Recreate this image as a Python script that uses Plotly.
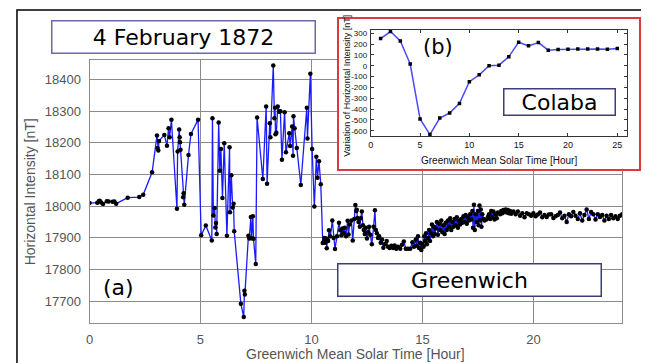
import plotly.graph_objects as go

# ---------------- data: Greenwich (panel a) ----------------
green_t = [
    0.00, 0.35, 0.42, 0.46, 0.52, 0.61, 0.78, 0.86, 1.04, 1.12, 1.20, 1.72, 2.24, 2.42, 2.82,
    3.04, 3.07, 3.10, 3.13, 3.37, 3.49, 3.56, 3.61, 3.69, 3.94, 3.97, 4.04, 4.06, 4.08, 4.10,
    4.22, 4.24, 4.27, 4.46, 4.57, 4.89, 5.03, 5.24, 5.51, 5.54, 5.58, 5.64, 5.67, 5.70, 5.73,
    5.82, 5.87, 5.92, 5.99, 6.07, 6.19, 6.31, 6.33, 6.39, 6.45, 6.49, 6.52, 6.82, 6.95, 6.98,
    7.00, 7.16, 7.20, 7.27, 7.30, 7.36, 7.39, 7.49, 7.55, 7.81, 7.96, 8.00, 8.12, 8.15, 8.28,
    8.33, 8.36, 8.38, 8.42, 8.48, 8.55, 8.60, 8.67, 8.79, 8.85, 9.00, 9.04, 9.13, 9.17, 9.19,
    9.24, 9.34, 9.52, 9.79, 9.82, 9.95, 10.03, 10.13, 10.22, 10.27, 10.34, 10.42,
    10.51, 10.55, 10.58, 10.62, 10.66, 10.69, 10.72, 10.75, 10.79, 10.85, 10.94, 11.00, 11.06,
    11.15, 11.24, 11.30, 11.35, 11.40, 11.45, 11.50, 11.56, 11.63, 11.67, 11.72, 11.80, 11.86,
    11.93, 11.98, 12.02, 12.04, 12.07, 12.12, 12.18, 12.22, 12.27, 12.32, 12.36, 12.40, 12.45,
    12.50, 12.55, 12.60, 12.65, 12.72, 12.80, 12.86, 12.90, 12.95, 13.00, 13.05, 13.12, 13.18,
    13.24, 13.30, 13.39, 13.45, 13.52, 13.60, 13.68, 13.75, 13.82, 13.90, 14.00, 14.08, 14.16,
    14.25, 14.35, 14.45, 14.55, 14.62, 14.70, 14.75, 14.80, 14.85, 14.90, 14.95, 15.00, 15.05,
    15.08, 15.12, 15.16, 15.20, 15.25, 15.30, 15.34, 15.38, 15.43, 15.48, 15.52, 15.56, 15.60,
    15.65, 15.70, 15.75, 15.80, 15.85, 15.90, 15.95, 16.00, 16.05, 16.10, 16.15, 16.20, 16.25,
    16.30, 16.35, 16.40, 16.45, 16.50, 16.55, 16.60, 16.65, 16.70, 16.75, 16.80, 16.85, 16.90,
    16.95, 17.00, 17.05, 17.10, 17.15, 17.20, 17.25, 17.28, 17.32, 17.36, 17.40, 17.45, 17.50,
    17.53, 17.57, 17.60, 17.63, 17.66, 17.70, 17.75, 17.80, 17.88, 17.95, 18.00, 18.05, 18.10,
    18.15, 18.20, 18.25, 18.30, 18.35, 18.40, 18.50, 18.55, 18.60, 18.65, 18.70, 18.75, 18.80,
    18.85, 18.90, 18.95, 19.00, 19.10, 19.20, 19.30, 19.40, 19.50, 19.60, 19.70, 19.80, 19.90,
    20.00, 20.10, 20.20, 20.30, 20.40, 20.50, 20.60, 20.70, 20.80, 20.90, 21.00, 21.10, 21.20,
    21.30, 21.40, 21.50, 21.60, 21.70, 21.80, 21.90, 22.00, 22.10, 22.20, 22.30, 22.40, 22.50,
    22.60, 22.70, 22.80, 22.90, 23.00, 23.10, 23.20, 23.30, 23.40, 23.50, 23.60, 23.70, 23.80,
    23.90, 24.00,
]
green_h = [
    18010, 18011, 18016, 18017, 18012, 18007, 18016, 18015, 18014, 18015, 18008, 18027, 18029, 18036, 18107,
    18223, 18184, 18176, 18206, 18225, 18191, 18246, 18218, 18273, 17992, 18173, 18242, 18218, 18202, 18178,
    18028, 18041, 18005, 18162, 18228, 18273, 17908, 17939, 17892, 18278, 17971, 17994, 17933, 17947, 17912,
    18264, 18112, 18181, 18026, 18199, 17907, 18186, 17981, 18098, 17996, 18008, 17921, 17692, 17650, 17733,
    17721, 17907, 17898, 17966, 17899, 17968, 17897, 17818, 18280, 18086, 18315, 18071, 18262, 18218, 18444,
    18278, 18311, 18227, 18232, 18315, 18298, 18300, 18147, 18297, 18170, 18230, 18190, 18252, 18159, 18284,
    18246, 18184, 18067, 18311, 18214, 18418, 18181, 17999, 18156, 18090, 18142, 18069,
    17884, 17888, 17900, 17885, 17898, 17867, 17896, 17890, 17924, 17905, 17955, 17900, 17865,
    17905, 17948, 17924, 17908, 17930, 17915, 17932, 17905, 17954, 17911, 17942, 17955, 17892,
    17960, 18004, 17985, 17989, 17963, 17950, 17935, 17962, 17983, 17940, 17925, 17912, 17932,
    17898, 17918, 17935, 17910, 17880, 17935, 17987, 17925, 17915, 17900, 17905, 17885, 17895,
    17869, 17880, 17890, 17872, 17868, 17875, 17868, 17876, 17866, 17872, 17866, 17878, 17889,
    17866, 17866, 17866, 17886, 17872, 17895, 17875, 17905, 17868, 17885, 17862, 17880, 17872,
    17905, 17890, 17915, 17880, 17900, 17925, 17890, 17915, 17942, 17905, 17935, 17912, 17930,
    17950, 17910, 17945, 17925, 17955, 17918, 17940, 17912, 17948, 17925, 17955, 17935, 17962,
    17925, 17950, 17935, 17960, 17940, 17965, 17932, 17955, 17942, 17960, 17948, 17968, 17950,
    17972, 17945, 17965, 17955, 17975, 17958, 17985, 17932, 18005, 17925, 17975, 17950, 17985,
    17940, 18002, 17955, 17990, 17935, 17975, 17960, 17955, 17958, 17966, 17975, 17960, 17985,
    17965, 17983, 17958, 17975, 17962, 17980, 17975, 17985, 17978, 17988, 17982, 17990, 17980,
    17988, 17978, 17985, 17976, 17983, 17975, 17983, 17970, 17978, 17965, 17978, 17975, 17970,
    17978, 17968, 17974, 17980, 17965, 17972, 17966, 17974, 17975, 17963, 17968, 17972, 17980,
    17962, 17970, 17950, 17975, 17968, 17982, 17970, 17960, 17978, 17955, 17972, 17990, 17960,
    17982, 17975, 17958, 17975, 17966, 17972, 17955, 17970, 17960, 17972, 17962, 17968, 17960,
    17970, 17975,
]

# ---------------- data: Colaba (panel b) ----------------
colaba_t = list(range(1, 26))
colaba_v = [250, 315, 229, 15, -492, -636, -483, -437, -348, -148, -84, 0, 5, 82,
            217, 183, 213, 143, 149, 152, 155, 155, 155, 152, 158]

main_xticks = [0, 5, 10, 15, 20]
main_yticks = [17700, 17800, 17900, 18000, 18100, 18200, 18300, 18400]
main_ytext = ["17700", "17800", "17900", "18000", "18100", "18200", "18300", "18400"]
inset_xticks = [0, 5, 10, 15, 20, 25]
inset_yticks = [300, 200, 100, 0, -100, -200, -300, -400, -500, -600]
inset_ytext = ["300", "200", "100", "0", "-100", "-200", "-300", "-400", "-500", "-600"]

# page has an 8px body margin: the figure is placed at (8, 8)
OFF = 8
W, H = 649 - OFF, 363 - OFF
def px(x): return (x - OFF) / W
def py(y): return 1 - (y - OFF) / H

TICK = dict(family="Liberation Sans, Arial, sans-serif", size=13, color="#555555")
NARROW = "Liberation Sans Narrow, Arial Narrow, Liberation Sans, sans-serif"

fig = go.Figure()

fig.add_trace(go.Scatter(
    x=green_t, y=green_h, mode="lines+markers",
    line=dict(color="#1a1aff", width=1.3),
    marker=dict(color="black", size=4.5),
    xaxis="x", yaxis="y", showlegend=False, hoverinfo="skip"))

# frame "subplot" of the inset (white panel with red border)
fig.add_trace(go.Scatter(x=[None], y=[None], xaxis="x2", yaxis="y2",
                         showlegend=False, hoverinfo="skip"))

fig.add_trace(go.Scatter(
    x=colaba_t, y=colaba_v, mode="lines+markers",
    line=dict(color="#4a4aff", width=1.5),
    marker=dict(color="black", size=3.5, symbol="square"),
    xaxis="x3", yaxis="y3", showlegend=False, hoverinfo="skip"))

fig.update_layout(
    width=W, height=H,
    margin=dict(l=0, r=0, t=0, b=0),
    paper_bgcolor="white", plot_bgcolor="white",
    xaxis=dict(domain=[px(86), px(622)], range=[0, 24], tickvals=main_xticks,
               showgrid=True, gridcolor="#8c8c8c", gridwidth=1, zeroline=False,
               showline=True, mirror=True, linecolor="#8c8c8c", linewidth=1,
               ticks="", tickfont=TICK, anchor="y", ticklabelstandoff=4),
    yaxis=dict(domain=[py(323), py(59)], range=[17631, 18462], tickvals=main_yticks,
               ticktext=main_ytext,
               showgrid=True, gridcolor="#8c8c8c", gridwidth=1, zeroline=False,
               showline=True, mirror=True, linecolor="#8c8c8c", linewidth=1,
               ticks="", tickfont=TICK, anchor="x", ticklabelstandoff=5),
    xaxis2=dict(domain=[px(337), px(639)], range=[0, 1], showgrid=False, zeroline=False,
                showticklabels=False, showline=True, mirror=True, linecolor="#d93a3a",
                linewidth=2, ticks="", anchor="y2"),
    yaxis2=dict(domain=[py(168), py(18)], range=[0, 1], showgrid=False, zeroline=False,
                showticklabels=False, showline=True, mirror=True, linecolor="#d93a3a",
                linewidth=2, ticks="", anchor="x2"),
    xaxis3=dict(domain=[px(369), px(627)], range=[0, 26], tickvals=inset_xticks,
                showgrid=False, zeroline=False, showline=True, mirror="ticks",
                linecolor="#333333", linewidth=1, ticks="inside", ticklen=3,
                tickcolor="#333333",
                tickfont=dict(family=NARROW, size=9, color="#111111"), anchor="y3"),
    yaxis3=dict(domain=[py(135.7), py(29)], range=[-652, 330], tickvals=inset_yticks,
                ticktext=inset_ytext,
                showgrid=False, zeroline=False, showline=True, mirror="ticks",
                linecolor="#333333", linewidth=1, ticks="inside", ticklen=3,
                tickcolor="#333333", ticklabelstandoff=1,
                tickfont=dict(family=NARROW, size=8, color="#111111"), anchor="x3"),
)

DV = "DejaVu Sans, Verdana, sans-serif"
ann = []
ann.append(dict(x=px(180.5), y=py(36), xref="paper", yref="paper", text="4 February 1872",
                showarrow=False, font=dict(family=DV, size=22, color="black"),
                bgcolor="white", bordercolor="#6a6aa8", borderwidth=1.5, borderpad=0,
                width=262, height=31, xanchor="center", yanchor="middle"))
ann.append(dict(x=px(115), y=py(287), xref="paper", yref="paper", text="(a)",
                showarrow=False, font=dict(family=DV, size=22, color="black"),
                xanchor="center", yanchor="middle"))
ann.append(dict(x=px(468.5), y=py(280), xref="paper", yref="paper", text="Greenwich",
                showarrow=False, font=dict(family=DV, size=22, color="black"),
                bgcolor="white", bordercolor="#3c3c80", borderwidth=1.5, borderpad=0,
                width=262, height=31, xanchor="center", yanchor="middle"))
ann.append(dict(x=px(437), y=py(46), xref="paper", yref="paper", text="(b)",
                showarrow=False, font=dict(family=DV, size=21, color="black"),
                xanchor="center", yanchor="middle"))
ann.append(dict(x=px(558.5), y=py(101), xref="paper", yref="paper", text="Colaba",
                showarrow=False, font=dict(family=DV, size=22, color="black"),
                bgcolor="white", bordercolor="#3c3c80", borderwidth=1.5, borderpad=0,
                width=110, height=25, xanchor="center", yanchor="middle"))
ann.append(dict(x=px(27), y=py(191), xref="paper", yref="paper",
                text="Horizontal Intensity [nT]", textangle=-90, showarrow=False,
                font=dict(family="Liberation Sans, Arial, sans-serif", size=14, color="#555555"),
                xanchor="center", yanchor="middle"))
ann.append(dict(x=px(354), y=py(354), xref="paper", yref="paper",
                text="Greenwich Mean Solar Time [Hour]", showarrow=False,
                font=dict(family="Liberation Sans, Arial, sans-serif", size=14, color="#555555"),
                xanchor="center", yanchor="middle"))
ann.append(dict(x=px(345), y=py(85), xref="paper", yref="paper",
                text="Variation of Horizontal Intensity [nT]", textangle=-90, showarrow=False,
                font=dict(family=NARROW, size=9, color="#111111"),
                xanchor="center", yanchor="middle"))
ann.append(dict(x=px(498), y=py(160), xref="paper", yref="paper",
                text="Greenwich Mean Solar Time [Hour]", showarrow=False,
                font=dict(family=NARROW, size=10, color="#111111"),
                xanchor="center", yanchor="middle"))
fig.update_layout(annotations=ann)

fig.add_shape(type="rect", xref="paper", yref="paper",
              x0=px(13), x1=px(646), y0=-0.1, y1=py(9),
              line=dict(color="black", width=1.5), fillcolor="rgba(0,0,0,0)", layer="below")

fig.write_html("out.html")
